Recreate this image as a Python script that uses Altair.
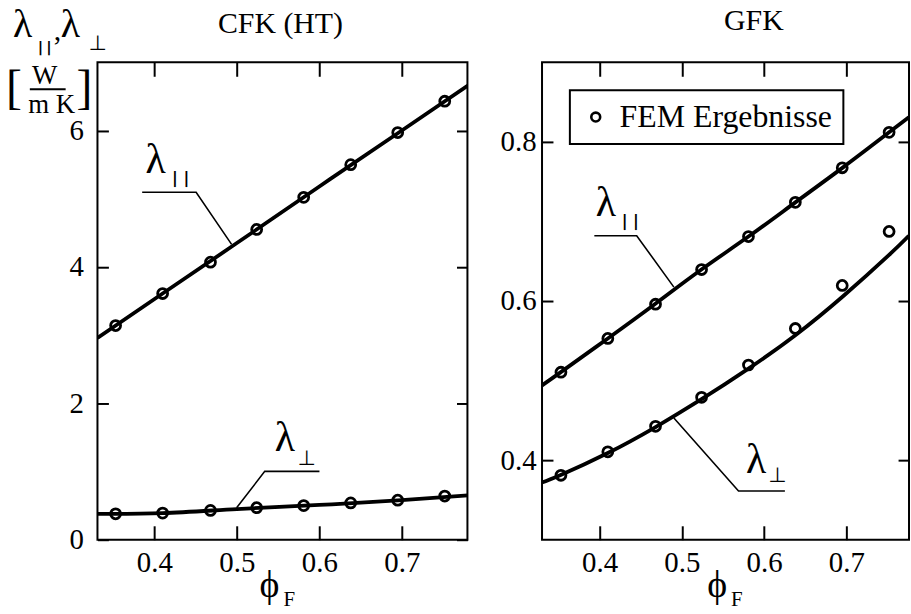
import altair as alt
import pandas as pd

SERIF = "Liberation Serif"
SYMBOL = "DejaVu Sans"

# ---- fibre volume fractions of the FEM evaluations --------------------------
phi_fem = [0.353, 0.410, 0.468, 0.524, 0.581, 0.638, 0.695, 0.752]

# ---- CFK (HT): conductivities in W/(m K) -------------------------------------
cfk_par_fem = [3.14, 3.61, 4.07, 4.55, 5.02, 5.50, 5.97, 6.43]
cfk_perp_fem = [0.38, 0.39, 0.43, 0.47, 0.50, 0.54, 0.58, 0.64]
cfk_phi_model = [0.331, 0.41, 0.50, 0.60, 0.70, 0.78]
cfk_par_model = [2.96, 3.61, 4.35, 5.18, 6.00, 6.66]
cfk_perp_model = [0.38, 0.39, 0.45, 0.51, 0.58, 0.65]

# ---- GFK: conductivities in W/(m K) ------------------------------------------
gfk_par_fem = [0.5105, 0.553, 0.596, 0.6396, 0.681, 0.724, 0.7675, 0.812]
gfk_perp_fem = [0.381, 0.4105, 0.4425, 0.479, 0.5196, 0.5655, 0.6196, 0.6875]
gfk_phi_model = [0.33, 0.352, 0.41, 0.467, 0.523, 0.581, 0.638, 0.696, 0.752, 0.776]
gfk_par_model = [0.494, 0.510, 0.553, 0.596, 0.639, 0.681, 0.724, 0.768, 0.812, 0.831]
gfk_perp_model = [0.372, 0.381, 0.409, 0.441, 0.476, 0.515, 0.557, 0.606, 0.658, 0.682]

# ---- axes --------------------------------------------------------------------
x_ticks = [0.4, 0.5, 0.6, 0.7]
cfk_y_ticks = [0, 2, 4, 6]
gfk_y_ticks = [0.4, 0.6, 0.8]
cfk_x_domain = [0.331, 0.7795]
cfk_y_domain = [0, 7]
gfk_x_domain = [0.33, 0.7762]
gfk_y_domain = [0.3, 0.9]

# ---- curve labels: leader polyline and text anchors in (phi, lambda) ---------
cfk_lead_par_phi = [0.3852, 0.4506, 0.4936]
cfk_lead_par_lam = [5.094, 5.094, 4.33]
cfk_lead_perp_phi = [0.4997, 0.5338, 0.6001]
cfk_lead_perp_lam = [0.47, 1.002, 1.002]
cfk_lab_phi = [0.3891, 0.5459]
cfk_lab_lam = [5.381, 1.298]
cfk_sub_par = (0.4215, 5.225)
cfk_sub_perp = (0.5736, 1.094)

gfk_lead_par_phi = [0.3936, 0.4451, 0.4903]
gfk_lead_par_lam = [0.6821, 0.6821, 0.6175]
gfk_lead_perp_phi = [0.4903, 0.5689, 0.6253]
gfk_lead_perp_lam = [0.453, 0.3613, 0.3613]
gfk_lab_phi = [0.3952, 0.5781]
gfk_lab_lam = [0.7071, 0.3843]
gfk_sub_par = (0.4268, 0.6946)
gfk_sub_perp = (0.6052, 0.3721)

PAR = "| |"
PAR_NARROW = "|\u2009|"
PERP = "\u22a5"
LAM = "\u03bb"
PHI = "\u03d5"

ONE = pd.DataFrame({"k": [0]})


def txt(text, x, y, size, font=SERIF, align="left", weight="normal"):
    return alt.Chart(ONE).mark_text(
        text=text, font=font, fontSize=size, align=align, fontWeight=weight,
        baseline="alphabetic", color="black",
    ).encode(x=alt.value(x), y=alt.value(y))


def panel(model_phi, model_par, model_perp, par_fem, perp_fem,
          lead_par, lead_perp, lab_phi, lab_lam, sub_par, sub_perp,
          xdom, ydom, yticks, yfmt, ylabpad, width, height,
          title, title_x, title_y, phi_x, legend, extra):
    xs = alt.Scale(domain=xdom, nice=False, zero=False)
    ys = alt.Scale(domain=ydom, nice=False, zero=False)

    model = pd.DataFrame({
        "phi": model_phi + model_phi,
        "lam": model_par + model_perp,
        "kurve": ["par"] * len(model_phi) + ["perp"] * len(model_phi),
    })
    fem = pd.DataFrame({
        "phi": phi_fem + phi_fem,
        "lam": par_fem + perp_fem,
        "quelle": ["FEM Ergebnisse"] * (2 * len(phi_fem)),
    })
    lead = pd.DataFrame({
        "phi": lead_par[0] + lead_perp[0],
        "lam": lead_par[1] + lead_perp[1],
        "id": ["par"] * 3 + ["perp"] * 3,
        "n": [0, 1, 2, 0, 1, 2],
    })
    labs = pd.DataFrame({"phi": lab_phi, "lam": lab_lam})

    lines = alt.Chart(model).mark_line(
        color="black", strokeWidth=3.8, clip=True, interpolate="natural"
    ).encode(
        x=alt.X("phi:Q", scale=xs, axis=alt.Axis(
            orient="bottom", values=x_ticks, format=".1f", offset=-14,
            tickSize=14, labelPadding=9, domain=False, grid=False, title=None)),
        y=alt.Y("lam:Q", scale=ys, axis=alt.Axis(
            orient="left", values=yticks, format=yfmt, offset=-11,
            tickSize=11, labelPadding=ylabpad, domain=False, grid=False,
            title=None)),
        detail="kurve:N",
    )

    enc = dict(
        x=alt.X("phi:Q", scale=xs, axis=alt.Axis(
            orient="top", values=x_ticks, offset=-14, tickSize=14,
            labels=False, domain=False, grid=False, title=None)),
        y=alt.Y("lam:Q", scale=ys, axis=alt.Axis(
            orient="right", values=yticks, offset=-11, tickSize=11,
            labels=False, domain=False, grid=False, title=None)),
    )
    if legend:
        enc["shape"] = alt.Shape("quelle:N", scale=alt.Scale(range=["circle"]),
                                 legend=alt.Legend(
                                     title=None, orient="none", legendX=28,
                                     legendY=28, strokeColor="black",
                                     padding=11, labelFont=SERIF,
                                     labelFontSize=32, labelColor="black",
                                     labelLimit=400, labelOffset=8,
                                     symbolSize=80, symbolStrokeWidth=2.6,
                                     symbolStrokeColor="black",
                                     symbolFillColor="white",
                                     symbolOffset=-1))
    points = alt.Chart(fem).mark_point(
        shape="circle", size=100, strokeWidth=2.8, color="black",
        filled=False, opacity=1,
    ).encode(**enc)

    leaders = alt.Chart(lead).mark_line(color="black", strokeWidth=1.6).encode(
        x=alt.X("phi:Q", scale=xs, axis=None),
        y=alt.Y("lam:Q", scale=ys, axis=None),
        detail="id:N", order="n:Q",
    )
    lam_text = alt.Chart(labs).mark_text(
        text=LAM, font=SERIF, fontSize=42, align="left",
        baseline="alphabetic", color="black",
    ).encode(x=alt.X("phi:Q", scale=xs, axis=None),
             y=alt.Y("lam:Q", scale=ys, axis=None))

    def sub(text, pos, size, font, weight="normal"):
        return alt.Chart(pd.DataFrame({"phi": [pos[0]], "lam": [pos[1]]})).mark_text(
            text=text, font=font, fontSize=size, align="left",
            fontWeight=weight, baseline="alphabetic", color="black",
        ).encode(x=alt.X("phi:Q", scale=xs, axis=None),
                 y=alt.Y("lam:Q", scale=ys, axis=None))

    layers = [lines, points, leaders, lam_text,
              sub(PAR, sub_par, 16, SYMBOL, "bold"),
              sub(PERP, sub_perp, 21, SYMBOL),
              txt(title, title_x, title_y, 30, align="center"),
              txt(PHI, phi_x, height + 58, 38, font=SERIF + ", DejaVu Serif",
                  align="center"),
              txt("F", phi_x + 14, height + 67, 21)]
    layers += extra
    return alt.layer(*layers).resolve_axis(
        x="independent", y="independent"
    ).properties(width=width, height=height)


H = 480

# quantity and unit written above the left axis
unit_label = [
    txt(LAM, -85, -25, 40),
    txt(PAR_NARROW, -60, -10, 15, font=SYMBOL, weight="bold"),
    txt(",", -44, -22, 30),
    txt(LAM, -37, -25, 40),
    txt(PERP, -9, -12, 21, font=SYMBOL),
    txt("[", -92, 41, 48),
    txt("W", -53, 22, 27, align="center"),
    alt.Chart(ONE).mark_rule(color="black", strokeWidth=2).encode(
        x=alt.value(-68), x2=alt.value(-32), y=alt.value(27)),
    txt("m K", -46, 51, 27, align="center"),
    txt("]", -21, 41, 48),
]

left = panel(cfk_phi_model, cfk_par_model, cfk_perp_model,
             cfk_par_fem, cfk_perp_fem,
             (cfk_lead_par_phi, cfk_lead_par_lam),
             (cfk_lead_perp_phi, cfk_lead_perp_lam),
             cfk_lab_phi, cfk_lab_lam, cfk_sub_par, cfk_sub_perp,
             cfk_x_domain, cfk_y_domain, cfk_y_ticks, "d", 14, 372, H,
             "CFK (HT)", 184, -30, 173, False, unit_label)

right = panel(gfk_phi_model, gfk_par_model, gfk_perp_model,
              gfk_par_fem, gfk_perp_fem,
              (gfk_lead_par_phi, gfk_lead_par_lam),
              (gfk_lead_perp_phi, gfk_lead_perp_lam),
              gfk_lab_phi, gfk_lab_lam, gfk_sub_par, gfk_sub_perp,
              gfk_x_domain, gfk_y_domain, gfk_y_ticks, ".1f", 6, 369, H,
              "GFK", 213, -33, 176, True, [])

chart = alt.hconcat(left, right, spacing=75, bounds="flush").resolve_legend(
    shape="independent"
).configure_view(
    stroke="black", strokeWidth=2
).configure_axis(
    tickColor="black", tickWidth=2, labelColor="black", labelFont=SERIF,
    labelFontSize=29,
).configure_legend(
    strokeWidth=2
).properties(
    padding={"left": 5, "top": 3, "right": 0, "bottom": 0},
    background="white",
)

chart.save("out.html", embed_options={"renderer": "svg", "actions": False})
